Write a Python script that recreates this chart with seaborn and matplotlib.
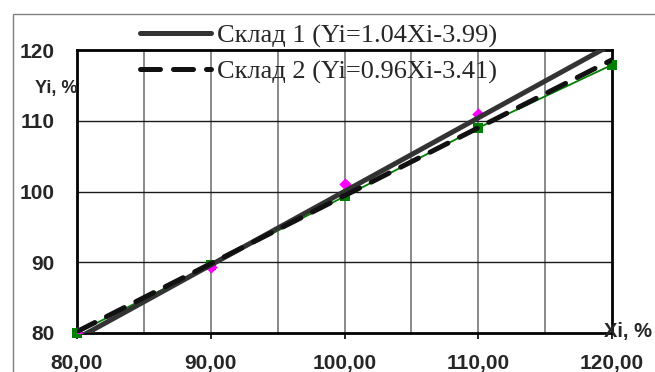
import matplotlib
matplotlib.use("Agg")
import matplotlib.pyplot as plt
import seaborn as sns
import pandas as pd
from matplotlib.patches import Rectangle

# точки по складам
x_pts = [80, 90, 100, 110, 120]
y_sklad1 = [80.0, 89.3, 101.1, 111.0]          # розовые ромбы (80..110)
y_sklad2 = [80.0, 89.6, 99.3, 109.0, 117.9]    # зелёные квадраты

# линии тренда (концы)
trend_x = [80, 120]
trend1_y = [79.21, 120.81]
trend2_y = [80.20, 118.61]

labels = ["Склад 1 (Yi=1.04Xi-3.99)", "Склад 2 (Yi=0.96Xi-3.41)"]
x_ticks = [80, 90, 100, 110, 120]
x_tick_labels = ["80,00", "90,00", "100,00", "110,00", "120,00"]
y_ticks = [80, 90, 100, 110, 120]

sns.set_style("white")
plt.rcParams['font.family'] = ['Liberation Sans', 'DejaVu Sans']

fig = plt.figure(figsize=(6.55, 3.72), dpi=100)
ax = fig.add_axes([77 / 655, 39 / 372, 535 / 655, 283 / 372])

# рамка области диаграммы
fig.patches.append(Rectangle((13 / 655, -0.05), 1.1, 0.05 + 1 - 14 / 372,
                             transform=fig.transFigure, fill=False,
                             edgecolor="#808080", lw=1.0, clip_on=False))

# сетка
for xv in range(85, 120, 5):
    ax.axvline(xv, color="#808080", lw=1.3, zorder=1)
for yv in [90, 100, 110]:
    ax.axhline(yv, color="#1a1a1a", lw=1.0, zorder=1)

df2 = pd.DataFrame({"x": x_pts, "y": y_sklad2})
df1 = pd.DataFrame({"x": x_pts[:4], "y": y_sklad1})
sns.lineplot(data=df2, x="x", y="y", ax=ax, color="#008000", lw=1.3,
             marker="s", markersize=7, markeredgewidth=0, zorder=3)
ax.lines[-1].set_clip_on(False)
sns.scatterplot(data=df1, x="x", y="y", ax=ax, color="#ff00ff", marker="D",
                s=40, linewidth=0, zorder=3)

t1 = pd.DataFrame({"x": trend_x, "y": trend1_y})
t2 = pd.DataFrame({"x": trend_x, "y": trend2_y})
sns.lineplot(data=t1, x="x", y="y", ax=ax, color="#333333", lw=3.6,
             label=labels[0], zorder=4)
sns.lineplot(data=t2, x="x", y="y", ax=ax, color="#111111", lw=3.6,
             label=labels[1], zorder=4)
ax.lines[-1].set_dashes((4, 2.6))
ax.lines[-1].set_dash_capstyle("round")

ax.set_xlim(80, 120)
ax.set_ylim(80, 120)
ax.set_xticks(x_ticks)
ax.set_xticklabels(x_tick_labels)
ax.set_yticks(y_ticks)
ax.tick_params(axis="both", labelsize=15, width=1.2, color="black")
ax.tick_params(axis="x", bottom=True, length=4, direction="out", pad=11)
ax.tick_params(axis="y", left=False, length=0, pad=16)
for lab in ax.get_xticklabels() + ax.get_yticklabels():
    lab.set_fontweight("bold")
for sp in ax.spines.values():
    sp.set_color("black")
    sp.set_linewidth(2.0)
ax.set_xlabel("")
ax.set_ylabel("")

leg = ax.legend(loc="upper left", bbox_to_anchor=(140 / 655, 1 - 24 / 372),
                bbox_transform=fig.transFigure, frameon=False,
                prop={"family": "Liberation Serif", "size": 19},
                handlelength=2.7, handletextpad=0.2, labelspacing=0.45,
                borderpad=0, borderaxespad=0)
leg.set_zorder(6)

fig.text(35 / 655, 1 - 89 / 372, "Yi, %", fontsize=13, fontweight="bold",
         va="center", ha="left")
fig.text(604 / 655, 1 - 332 / 372, "Xi, %", fontsize=14.5, fontweight="bold",
         va="center", ha="left")

fig.savefig("out.png", dpi=100)
